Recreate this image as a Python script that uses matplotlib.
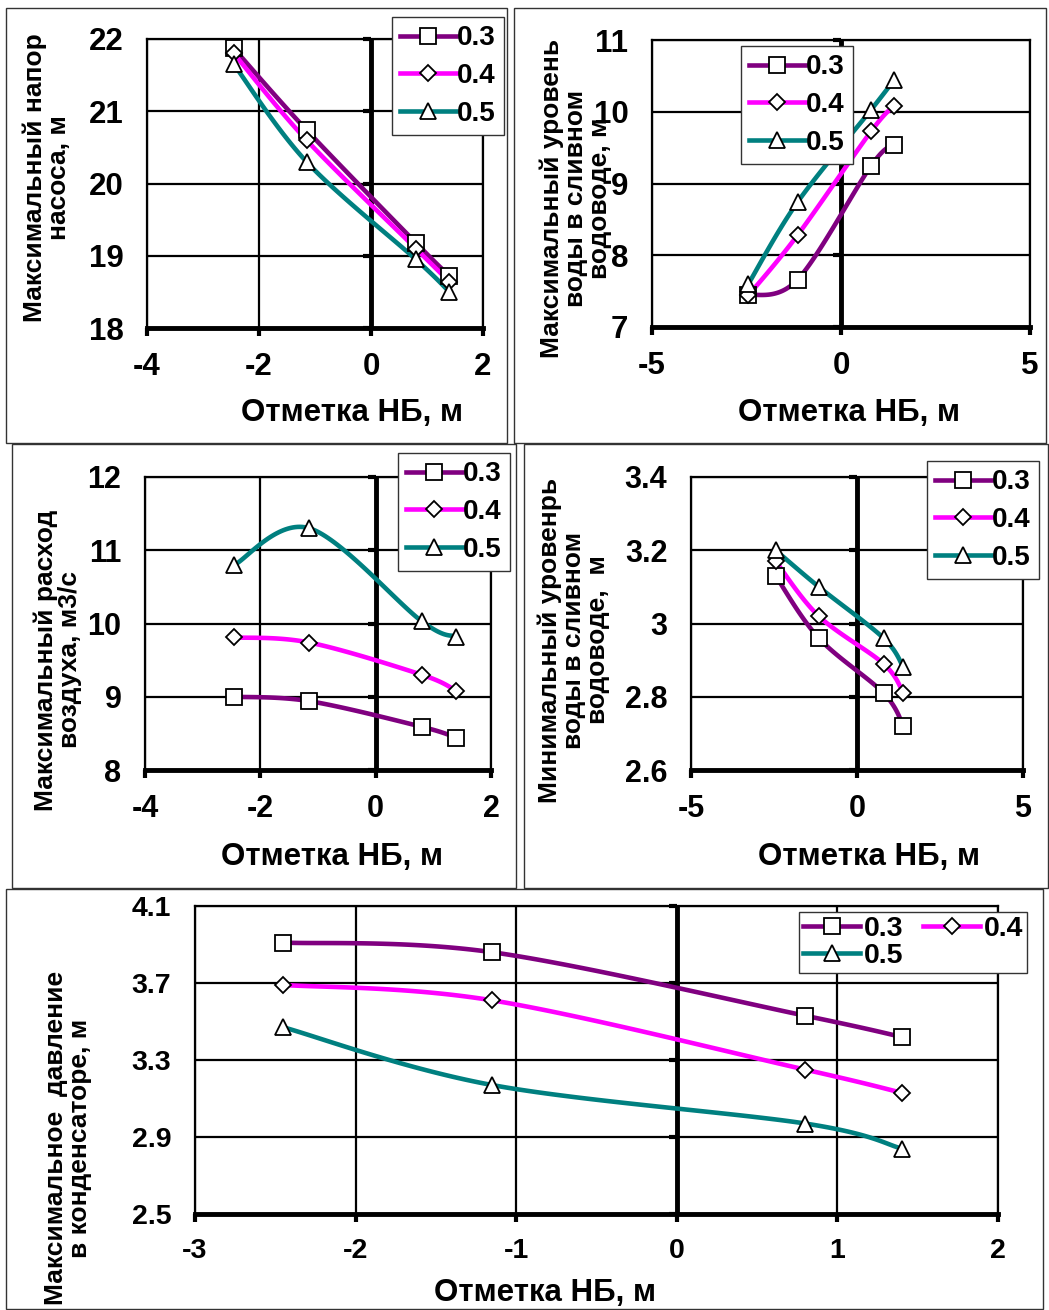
import matplotlib
matplotlib.use("Agg")
import matplotlib.pyplot as plt
from matplotlib import font_manager
from matplotlib.patches import Rectangle
import numpy as np

# --- data ---
x_nb = [-2.45, -1.15, 0.8, 1.4]
series_names = ["0.3", "0.4", "0.5"]

head_03 = [21.87, 20.74, 19.18, 18.72]
head_04 = [21.8, 20.6, 19.1, 18.64]
head_05 = [21.65, 20.3, 18.95, 18.5]

maxlev_03 = [7.44, 7.66, 9.25, 9.54]
maxlev_04 = [7.44, 8.28, 9.73, 10.08]
maxlev_05 = [7.6, 8.74, 10.03, 10.44]

air_03 = [9.0, 8.94, 8.59, 8.44]
air_04 = [9.81, 9.74, 9.3, 9.08]
air_05 = [10.8, 11.3, 10.03, 9.82]

minlev_03 = [3.13, 2.96, 2.81, 2.72]
minlev_04 = [3.17, 3.02, 2.89, 2.81]
minlev_05 = [3.2, 3.1, 2.96, 2.88]

press_03 = [3.91, 3.86, 3.53, 3.42]
press_04 = [3.69, 3.61, 3.25, 3.13]
press_05 = [3.47, 3.17, 2.97, 2.84]

colors = ["#800080", "#FF00FF", "#008080"]

W, H = 1049, 1310
fig = plt.figure(figsize=(W / 100, H / 100), dpi=100)

names = {f.name for f in font_manager.fontManager.ttflist}
FONT = "Liberation Sans" if "Liberation Sans" in names else "DejaVu Sans"
plt.rcParams["font.family"] = [FONT, "DejaVu Sans"]
plt.rcParams["font.weight"] = "bold"


def px_axes(l, r, t, b):
    return fig.add_axes([l / W, 1 - b / H, (r - l) / W, (b - t) / H])


def excel_smooth(x, y, xlim, ylim, w, h, n=40):
    # Bezier smoothing like Excel's "smoothed line", done in pixel space
    px = (np.asarray(x) - xlim[0]) / (xlim[1] - xlim[0]) * w
    py = (np.asarray(y) - ylim[0]) / (ylim[1] - ylim[0]) * h
    P = np.column_stack([px, py])
    Pp = np.vstack([P[0], P, P[-1]])
    out = []
    t = np.linspace(0, 1, n)[:, None]
    for i in range(len(P) - 1):
        p0, p1, p2, p3 = Pp[i], Pp[i + 1], Pp[i + 2], Pp[i + 3]
        c1 = p1 + (p2 - p0) / 6
        c2 = p2 - (p3 - p1) / 6
        seg = (1 - t) ** 3 * p1 + 3 * (1 - t) ** 2 * t * c1 + 3 * (1 - t) * t ** 2 * c2 + t ** 3 * p2
        out.append(seg if i == 0 else seg[1:])
    S = np.vstack(out)
    return (S[:, 0] / w * (xlim[1] - xlim[0]) + xlim[0],
            S[:, 1] / h * (ylim[1] - ylim[0]) + ylim[0])


panels = [
    dict(rect=(147, 483, 39, 328), ys=[head_03, head_04, head_05],
         xlim=(-4, 2), xt=[-4, -2, 0, 2], ylim=(18, 22), yt=[18, 19, 20, 21, 22],
         ylabel="Максимальный напор\nнасоса, м", ylab_xy=(47, 178),
         xlab_xy=(352, 413), leg=(392, 17), wide=False, tsize=22.5),
    dict(rect=(652, 1030, 40, 327), ys=[maxlev_03, maxlev_04, maxlev_05],
         xlim=(-5, 5), xt=[-5, 0, 5], ylim=(7, 11), yt=[7, 8, 9, 10, 11],
         ylabel="Максимальный уровень\nводы в сливном\nводоводе, м", ylab_xy=(576, 198),
         xlab_xy=(849, 413), leg=(741, 46), wide=False, tsize=22.5),
    dict(rect=(145, 491, 477, 770), ys=[air_03, air_04, air_05],
         xlim=(-4, 2), xt=[-4, -2, 0, 2], ylim=(8, 12), yt=[8, 9, 10, 11, 12],
         ylabel="Максимальный расход\nвоздуха, м3/с", ylab_xy=(58, 660),
         xlab_xy=(332, 857), leg=(398, 453), wide=False, tsize=22),
    dict(rect=(691, 1023, 477, 770), ys=[minlev_03, minlev_04, minlev_05],
         xlim=(-5, 5), xt=[-5, 0, 5], ylim=(2.6, 3.4), yt=[2.6, 2.8, 3.0, 3.2, 3.4],
         ylabel="Минимальный уровенрь\nводы в сливном\nводоводе,  м", ylab_xy=(574, 640),
         xlab_xy=(869, 857), leg=(927, 461), wide=False, tsize=22),
    dict(rect=(195, 998, 906, 1214), ys=[press_03, press_04, press_05],
         xlim=(-3, 2), xt=[-3, -2, -1, 0, 1, 2], ylim=(2.5, 4.1), yt=[2.5, 2.9, 3.3, 3.7, 4.1],
         ylabel="Максимальное  давление\nв конденсаторе, м", ylab_xy=(68, 1138),
         xlab_xy=(545, 1293), leg=(799, 912), wide=True, tsize=20.5),
]

# panel frames
for (l, t, r, b) in [(6, 8, 507, 443), (514, 8, 1046, 443), (12, 444, 516, 888),
                     (524, 444, 1048, 888), (6, 889, 1043, 1309)]:
    fig.add_artist(Rectangle((l / W, 1 - b / H), (r - l) / W, (b - t) / H,
                             transform=fig.transFigure, fill=False,
                             edgecolor="#333333", linewidth=1.0))

for p in panels:
    l, r, t, b = p["rect"]
    ax = px_axes(l, r, t, b)
    w, h = r - l, b - t
    ax.set_xlim(*p["xlim"])
    ax.set_ylim(*p["ylim"])
    ax.set_xticks(p["xt"])
    ax.set_yticks(p["yt"])
    ax.set_xticklabels([f"{v:g}" for v in p["xt"]], fontsize=p["tsize"], fontweight="bold")
    if p["wide"]:
        ylabs = [f"{v:.1f}" for v in p["yt"]]
    else:
        ylabs = [f"{v:g}" for v in p["yt"]]
    ax.set_yticklabels(ylabs, fontsize=p["tsize"], fontweight="bold")
    ax.tick_params(axis="y", length=0, pad=17)
    ax.tick_params(axis="x", length=6, width=3, pad=11, direction="out")
    ax.grid(True, color="black", linewidth=1.6)
    ax.set_axisbelow(True)
    for s in ["left", "top", "right"]:
        ax.spines[s].set_linewidth(1.6)
    ax.spines["bottom"].set_linewidth(3.5)
    ax.axvline(0, color="black", linewidth=3.5, zorder=1.5)
    ax.plot(np.zeros(len(p["yt"])), p["yt"], linestyle="none", marker=0,
            markersize=6, markeredgewidth=3, color="black", clip_on=False, zorder=1.6)

    mk = [("s", 12), ("D", 8.5), ("^", 12)]
    handles = []
    for yv, c, (m, ms), name in zip(p["ys"], colors, mk, series_names):
        sx, sy = excel_smooth(x_nb, yv, p["xlim"], p["ylim"], w, h)
        ax.plot(sx, sy, color=c, linewidth=3.3, zorder=3, solid_capstyle="round")
        ax.plot(x_nb, yv, linestyle="none", marker=m, markersize=ms,
                markerfacecolor="white", markeredgecolor="black",
                markeredgewidth=1.3, zorder=4, clip_on=False)
        handles.append(plt.Line2D([], [], color=c, linewidth=3.3, marker=m, markersize=ms,
                                  markerfacecolor="white", markeredgecolor="black",
                                  markeredgewidth=1.3, label=name))

    if p["wide"]:
        order = [handles[0], handles[2], handles[1]]
        leg = fig.legend(handles=order, labels=[hh.get_label() for hh in order],
                         loc="upper left", bbox_to_anchor=(p["leg"][0] / W, 1 - p["leg"][1] / H),
                         bbox_transform=fig.transFigure, ncol=2, borderaxespad=0,
                         prop=dict(family=FONT, weight="bold", size=20.5),
                         handlelength=2.0, handletextpad=0.12, columnspacing=0.7,
                         labelspacing=0.02, borderpad=0.15, numpoints=1,
                         fancybox=False, framealpha=1, edgecolor="#333333")
    else:
        leg = fig.legend(handles=handles, loc="upper left",
                         bbox_to_anchor=(p["leg"][0] / W, 1 - p["leg"][1] / H),
                         bbox_transform=fig.transFigure, borderaxespad=0,
                         prop=dict(family=FONT, weight="bold", size=20),
                         handlelength=2.0, handletextpad=0.05, labelspacing=0.42,
                         borderpad=0.3, numpoints=1,
                         fancybox=False, framealpha=1, edgecolor="#333333")
    leg.get_frame().set_linewidth(1.0)
    leg.set_zorder(10)

    fig.text(p["ylab_xy"][0] / W, 1 - p["ylab_xy"][1] / H, p["ylabel"], rotation=90,
             ha="center", va="center", multialignment="center",
             fontsize=19, fontweight="bold", linespacing=1.0)
    fig.text(p["xlab_xy"][0] / W, 1 - p["xlab_xy"][1] / H, "Отметка НБ, м",
             ha="center", va="center", fontsize=22.5, fontweight="bold")

fig.savefig("out.png", dpi=100, facecolor="white")
